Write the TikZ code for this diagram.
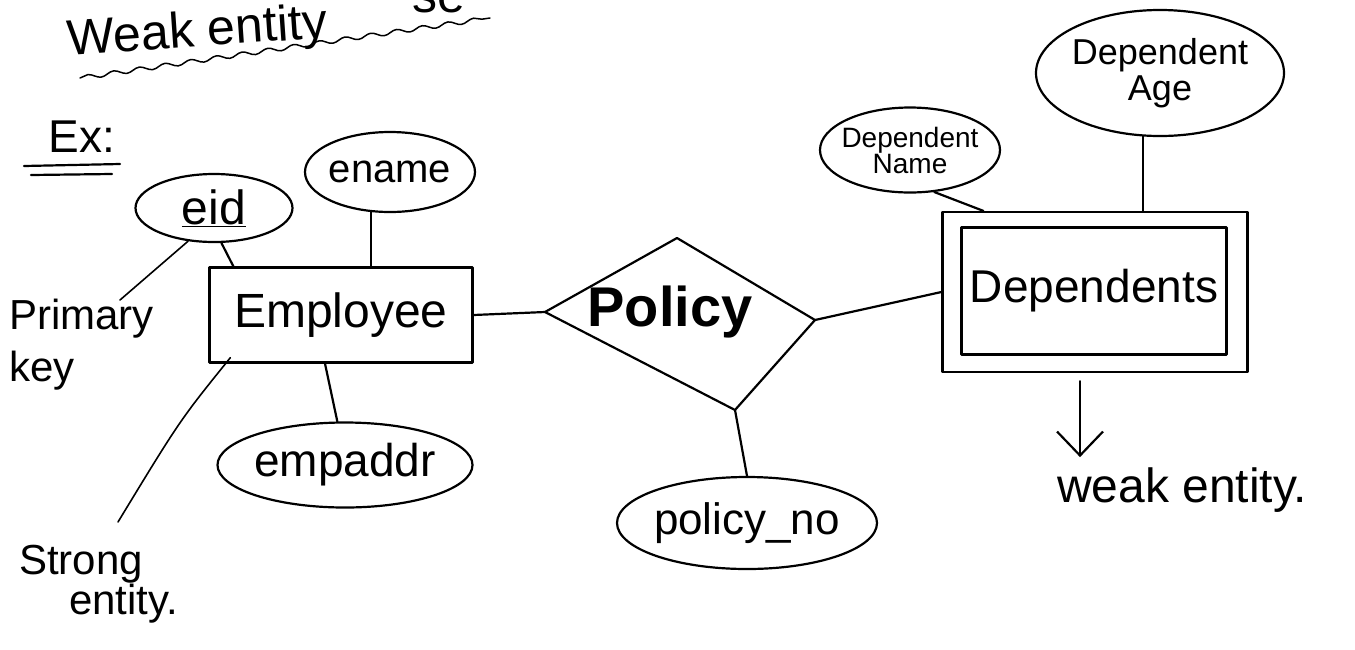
\documentclass[tikz,border=0pt]{standalone}
\usepackage{fontspec}
\setmainfont{Liberation Sans}
\usetikzlibrary{shapes.geometric,decorations.pathmorphing,arrows.meta,calc}

\begin{document}
\begin{tikzpicture}[x=1pt,y=-1pt,
  line width=2.2pt, line cap=round, line join=round,
  attr/.style={draw, ellipse, inner sep=0pt},
  entbox/.style={draw, rectangle, inner sep=0pt},
  fs/.style={font=\fontsize{#1}{#1}\selectfont},
  note/.style={align=left, inner sep=2pt},
  link/.style={line width=1.6pt}]
\useasboundingbox (0,0) rectangle (1355,649);
\clip (0,0) rectangle (1355,649);

% heading
\node[fs=50, anchor=base west, rotate=4] (title) at (64,56) {Weak entity};
\node[fs=50, anchor=base west] (cut) at (408,12) {se};
\draw[line width=1.5pt, decorate,
      decoration={snake, amplitude=2.2pt, segment length=26pt}]
  ($(title.base west)+(16,22)$) -- ($(title.base west)+(426,-38)$);

\node[fs=46, anchor=base west] (ex) at (44,152) {Ex:};
\draw ($(ex.base west)+(-20,14)$) -- ($(ex.base west)+(76,12)$);
\draw ($(ex.base west)+(-13,23)$) -- ($(ex.base west)+(68,22)$);

% strong entity and its attributes
\node[entbox, minimum width=263pt, minimum height=95pt, fs=48] (emp) at (341,315) {Employee};
\node[attr, minimum width=157pt, minimum height=68pt, fs=48] (eid) at (214,208) {\underline{eid}};
\node[attr, inner xsep=-8pt, minimum width=170pt, minimum height=80pt, fs=40] (ename) at (390,172) {ename};
\node[attr, inner xsep=-7pt, minimum width=255pt, minimum height=85pt, fs=46] (empaddr) at (345,465) {empaddr};

\draw (eid.-78) -- ($(emp.north west)+(25,0)$);
\draw (ename.-115) -- (ename.-115 |- emp.north);
\draw ($(emp.south)+(-16,0)$) -- (empaddr.100);

% relationship: a slightly skewed diamond
\coordinate (pl) at (545,312);
\coordinate (pt) at (677,238);
\coordinate (pr) at (815,320);
\coordinate (pb) at (735,410);
\draw (pl) -- (pt) -- (pr) -- (pb) -- cycle;
\node[fs=56, inner sep=0pt] (policy) at (670,312) {\textbf{Policy}};
\node[attr, inner xsep=-6pt, minimum width=260pt, minimum height=92pt, fs=44] (policyno) at (747,523) {policy\_no};
\draw (emp.east) -- (pl);
\draw (pb) -- (policyno.north);

% weak entity and its attributes
\node[entbox, minimum width=305pt, minimum height=160pt] (depout) at (1095,292) {};
\node[entbox, minimum width=265pt, minimum height=127pt, fs=46] (dep) at (1094,291) {Dependents};
\draw (pr) -- (depout.west);

\node[attr, inner xsep=-12pt, inner ysep=-3pt, minimum width=180pt, minimum height=85pt, fs=28, align=center] (depname) at (910,150) {Dependent\\[-2pt]Name};
\node[attr, inner xsep=-10pt, minimum width=248pt, minimum height=126pt, fs=36, align=center] (depage) at (1160,73) {Dependent\\[0pt]Age};
\draw (depname.-60) -- ($(depout.north west)+(42,0)$);
\draw (depage.-105) -- (depage.-105 |- depout.north);

% notes
\node[note, fs=42, anchor=north west] (pk) at (6,296) {Primary\\[10pt]key};
\draw[link] ($(pk.north west)+(114,4)$) -- (eid.-128);

\node[note, fs=42, anchor=north west] (strong) at (16,542) {Strong\\[-2pt]\hspace*{50pt}entity.};
\draw[link] ($(emp.south west)+(22,-6)$) .. controls (180,420) .. ($(strong.north west)+(102,-20)$);

\coordinate (tip) at ($(depout.south)+(-15,84)$);
\draw[-{Straight Barb[length=24pt,width=46pt]}] ($(depout.south)+(-15,8)$) -- (tip);
\node[fs=48, anchor=north] (weak) at ($(tip)+(102,6)$) {weak entity.};
\end{tikzpicture}
\end{document}
